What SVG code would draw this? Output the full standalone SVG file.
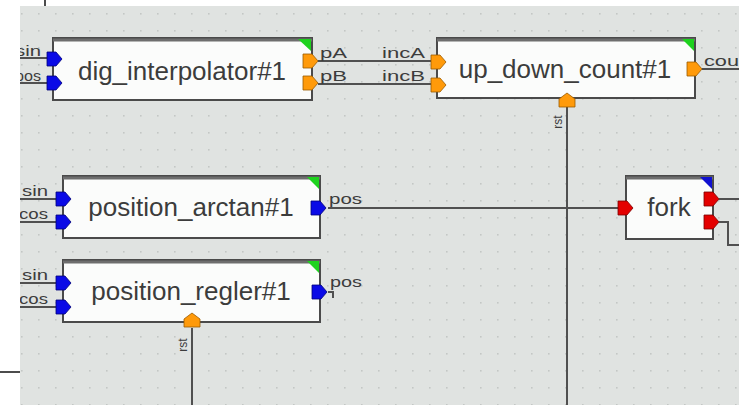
<svg xmlns="http://www.w3.org/2000/svg" xmlns:xlink="http://www.w3.org/1999/xlink" width="744" height="406" viewBox="0 0 744 406">
<style>
.box{fill:#fbfcfb;stroke:#4a4a4a;stroke-width:2}
.band{stroke:#6e6e6e;stroke-width:3}
.title{font-family:"Liberation Sans",Arial,sans-serif;font-size:26px;fill:#3c3c3c;text-anchor:middle}
.lbl{font-family:"Liberation Sans",Arial,sans-serif;font-size:14px;fill:#3c3c3c}
.rl{font-family:"Liberation Sans",Arial,sans-serif;font-size:12px;fill:#3c3c3c;text-anchor:middle}
.w{fill:none;stroke:#505050;stroke-width:2}
.blue{fill:#0a0ae6;stroke:#00007a;stroke-width:0.8}
.orange{fill:#ff9a0a;stroke:#9a5a00;stroke-width:0.8}
.red{fill:#e40000;stroke:#7a0000;stroke-width:0.8}
.green{fill:#1ed21e}
.tb{fill:#1010d0}
.edge{stroke:#111;stroke-width:1.5}
</style>
<defs>
<pattern id="grid" x="4" y="13" width="17" height="17" patternUnits="userSpaceOnUse">
<rect x="0" y="0" width="1.6" height="1.6" fill="#c3c7c5"/>
</pattern>
<clipPath id="cv"><rect x="20" y="6" width="719" height="399"/></clipPath>
<path id="pr" d="M0,-7 H9 L15,0 L9,7 H0 Z"/>
<path id="pu" d="M-8,7 V-1 L0,-7 L8,-1 V7 Z"/>
</defs>
<rect x="0" y="0" width="744" height="406" fill="#ffffff"/>
<line class="edge" x1="45" y1="0" x2="45" y2="6"/>
<line class="edge" x1="0" y1="372" x2="20" y2="372"/>
<rect x="20" y="6" width="719" height="399" fill="#e0e3e1"/>
<rect x="20" y="6" width="719" height="399" fill="url(#grid)"/>
<g clip-path="url(#cv)">
<g id="connectors">
<path class="w" d="M0,58 H48"/>
<path class="w" d="M0,83 H48"/>
<path class="w" d="M318,61 H431"/>
<path class="w" d="M318,84 H431"/>
<path class="w" d="M702,69 H744"/>
<path class="w" d="M567,107 V406"/>
<path class="w" d="M0,199 H57"/>
<path class="w" d="M0,222 H57"/>
<path class="w" d="M328,208 H618"/>
<path class="w" d="M0,283 H57"/>
<path class="w" d="M0,307 H57"/>
<path class="w" d="M328,292 H333 V298"/>
<path class="w" d="M192,328 V406"/>
<path class="w" d="M719,199 H744"/>
<path class="w" d="M719,222 H728 V245 H744"/>
</g>
<g id="dig_interpolator">
<rect class="box" x="53" y="38" width="259" height="62"/>
<line class="band" x1="53" y1="40" x2="312" y2="40"/>
<polygon class="green" points="298,39 311,39 311,51"/>
<text class="title" x="182" y="80">dig_interpolator#1</text>
<use href="#pr" x="47" y="59" class="blue"/>
<use href="#pr" x="47" y="83" class="blue"/>
<use href="#pr" x="303" y="61" class="orange"/>
<use href="#pr" x="303" y="83" class="orange"/>
<text class="lbl" x="15" y="56" textLength="26" lengthAdjust="spacingAndGlyphs">sin</text>
<text class="lbl" x="15" y="81" textLength="26" lengthAdjust="spacingAndGlyphs">pos</text>
<text class="lbl" x="320" y="58" textLength="27" lengthAdjust="spacingAndGlyphs">pA</text>
<text class="lbl" x="320" y="81" textLength="27" lengthAdjust="spacingAndGlyphs">pB</text>
</g>
<g id="up_down_count">
<rect class="box" x="437" y="38" width="258" height="60"/>
<line class="band" x1="437" y1="40" x2="695" y2="40"/>
<polygon class="green" points="682,39 694,39 694,51"/>
<text class="title" x="565" y="78">up_down_count#1</text>
<use href="#pr" x="431" y="62" class="orange"/>
<use href="#pr" x="431" y="85" class="orange"/>
<use href="#pr" x="687" y="69" class="orange"/>
<use href="#pu" x="567" y="100" class="orange"/>
<text class="lbl" x="382" y="58" textLength="43" lengthAdjust="spacingAndGlyphs">incA</text>
<text class="lbl" x="382" y="81" textLength="43" lengthAdjust="spacingAndGlyphs">incB</text>
<text class="lbl" x="704" y="66" textLength="35" lengthAdjust="spacingAndGlyphs">cou</text>
<text class="rl" transform="translate(562,122) rotate(-90)">rst</text>
</g>
<g id="position_arctan">
<rect class="box" x="63" y="176" width="257" height="62"/>
<line class="band" x1="63" y1="178" x2="320" y2="178"/>
<polygon class="green" points="307,177 319,177 319,189"/>
<text class="title" x="191" y="216">position_arctan#1</text>
<use href="#pr" x="56" y="199" class="blue"/>
<use href="#pr" x="56" y="222" class="blue"/>
<use href="#pr" x="311" y="208" class="blue"/>
<text class="lbl" x="22" y="196" textLength="26" lengthAdjust="spacingAndGlyphs">sin</text>
<text class="lbl" x="19" y="219" textLength="29" lengthAdjust="spacingAndGlyphs">cos</text>
<text class="lbl" x="329" y="204" textLength="33" lengthAdjust="spacingAndGlyphs">pos</text>
</g>
<g id="position_regler">
<rect class="box" x="63" y="260" width="257" height="62"/>
<line class="band" x1="63" y1="262" x2="320" y2="262"/>
<polygon class="green" points="307,261 319,261 319,273"/>
<text class="title" x="191" y="300">position_regler#1</text>
<use href="#pr" x="56" y="283" class="blue"/>
<use href="#pr" x="56" y="307" class="blue"/>
<use href="#pr" x="312" y="292" class="blue"/>
<use href="#pu" x="192" y="320" class="orange"/>
<text class="lbl" x="22" y="280" textLength="26" lengthAdjust="spacingAndGlyphs">sin</text>
<text class="lbl" x="19" y="304" textLength="29" lengthAdjust="spacingAndGlyphs">cos</text>
<text class="lbl" x="330" y="287" textLength="32" lengthAdjust="spacingAndGlyphs">pos</text>
<text class="rl" transform="translate(187,345) rotate(-90)">rst</text>
</g>
<g id="fork">
<rect class="box" x="626" y="176" width="87" height="63"/>
<line class="band" x1="626" y1="178" x2="713" y2="178"/>
<polygon class="tb" points="700,177 712,177 712,189"/>
<text class="title" x="669" y="216">fork</text>
<use href="#pr" x="618" y="208" class="red"/>
<use href="#pr" x="704" y="199" class="red"/>
<use href="#pr" x="704" y="222" class="red"/>
</g>
</g>
</svg>
